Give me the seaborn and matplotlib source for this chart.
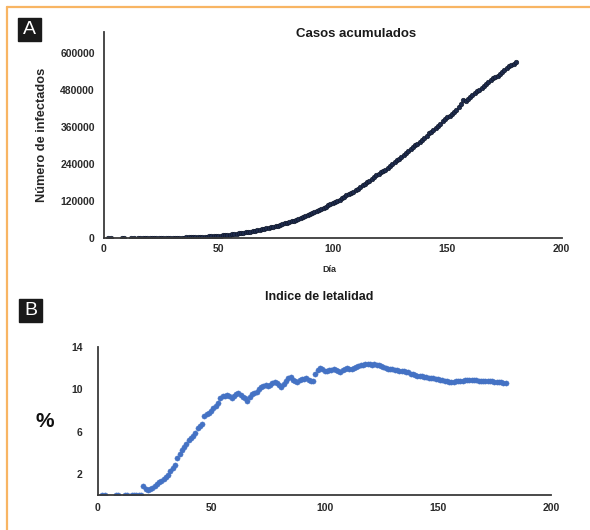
import numpy as np
import pandas as pd
import matplotlib.pyplot as plt
import seaborn as sns

# dias con dato
dias_ini = [2, 3, 8, 9, 12, 13]
dias = dias_ini + list(range(15, 181))

# casos acumulados (panel A)
casos = [4, 5, 7, 7, 12, 26,
         30, 41, 53, 82, 93, 118, 164, 203, 251, 316, 367, 405, 475, 585, 717,
         848, 993, 1094, 1215, 1378, 1510, 1688, 1890, 2143, 2439, 2785, 3181,
         3441, 3844, 4219, 4661, 5014, 5399, 5847, 6297, 6875, 7497, 8261, 8772,
         9501, 10544, 11633, 12872, 13842, 14677, 15529, 16752, 17799, 19224,
         20739, 22088, 23471, 24905, 26025, 27634, 29616, 31522, 33460, 35022,
         36327, 38324, 40186, 42595, 45032, 47144, 49219, 51633, 54346, 56594,
         59567, 62527, 65856, 68620, 71105, 74560, 78023, 81400, 84627, 87512,
         90664, 93435, 97326, 101238, 105680, 110026, 113619, 117103, 120102,
         124301, 129184, 133974, 139196, 142690, 146837, 150264, 154863, 159793,
         165455, 170485, 175202, 180545, 185122, 191410, 196847, 202951, 208392,
         212802, 216852, 220657, 226089, 231770, 238511, 245251, 252165, 256848,
         261750, 268008, 275003, 282283, 289174, 295268, 299750, 304435, 311486,
         317635, 324041, 331298, 338913, 344224, 349396, 356255, 362274, 370712,
         378285, 385036, 390516, 395489, 402697, 408449, 416179, 424637, 434193,
         447500, 443813, 449961, 456100, 462690, 469407, 475902, 480278,
         485836, 492522, 498380, 505751, 511369, 517714, 522162, 525733, 531239,
         537031, 543806, 549734, 556216, 560164, 563705, 568621]

# indice de letalidad (%) (panel B)
letalidad = [0, 0, 0, 0, 0, 0,
             0, 0, 0, 0, 0, 0.9, 0.6, 0.5, 0.6, 0.7, 0.9, 1.0, 1.2, 1.3, 1.5,
             1.7, 1.9, 2.3, 2.6, 2.8, 3.5, 3.9, 4.3, 4.5, 4.8, 5.2, 5.4, 5.6,
             5.9, 6.3, 6.5, 6.7, 7.5, 7.7, 7.8, 8.0, 8.2, 8.4, 8.7, 9.2, 9.4,
             9.4, 9.5, 9.4, 9.2, 9.4, 9.6, 9.7, 9.5, 9.3, 9.2, 8.9, 9.3, 9.6,
             9.7, 9.8, 10.0, 10.2, 10.3, 10.4, 10.3, 10.4, 10.6, 10.7, 10.6,
             10.4, 10.2, 10.5, 10.8, 11.1, 11.2, 10.9, 10.8, 10.7, 10.9, 11.0,
             11.0, 11.1, 10.9, 10.8, 10.8, 11.5, 11.8, 12.0, 11.9, 11.7, 11.7,
             11.8, 11.8, 11.9, 11.8, 11.7, 11.6, 11.8, 11.9, 12.0, 11.9, 11.9,
             12.0, 12.1, 12.2, 12.3, 12.3, 12.4, 12.4, 12.4, 12.3, 12.4, 12.3,
             12.3, 12.2, 12.1, 12.0, 11.9, 11.9, 11.9, 11.8, 11.8, 11.7, 11.7,
             11.7, 11.6, 11.6, 11.5, 11.5, 11.4, 11.3, 11.3, 11.3, 11.2, 11.2,
             11.1, 11.1, 11.1, 11.0, 11.0, 10.9, 10.9, 10.8, 10.8, 10.7, 10.7,
             10.7, 10.8, 10.8, 10.8, 10.8, 10.9, 10.9, 10.9, 10.9, 10.9, 10.9,
             10.8, 10.8, 10.8, 10.8, 10.8, 10.8, 10.8, 10.7, 10.7, 10.7, 10.7,
             10.6, 10.6]

xticks = [0, 50, 100, 150, 200]
yticks_a = [0, 120000, 240000, 360000, 480000, 600000]
yticks_b = [2, 6, 10, 14]

df = pd.DataFrame({'dia': dias, 'casos': casos, 'letalidad': letalidad})

sns.set_style('white')
plt.rcParams['font.family'] = ['Liberation Sans', 'DejaVu Sans']

fig = plt.figure(figsize=(5.9, 5.3), dpi=100)
ax1 = fig.add_axes([0.176, 0.551, 0.776, 0.389])
ax2 = fig.add_axes([0.166, 0.066, 0.768, 0.279])

sns.scatterplot(data=df, x='dia', y='casos', ax=ax1, s=11, color='#1e2b4d',
                edgecolor='#0d1526', linewidth=0.4)
sns.scatterplot(data=df, x='dia', y='letalidad', ax=ax2, s=14, color='#4472c4',
                edgecolor='#4472c4', linewidth=0.3)

for ax in (ax1, ax2):
    sns.despine(ax=ax)
    for sp in ('left', 'bottom'):
        ax.spines[sp].set_color('#3a3a3a')
        ax.spines[sp].set_linewidth(1.3)
    ax.set_xlim(0, 200)
    ax.set_xticks(xticks)
    ax.tick_params(length=0, labelsize=7.5, labelcolor='#2a2a2a')
    for lbl in ax.get_xticklabels():
        lbl.set_fontweight('bold')
    ax.set_xlabel('')
    ax.set_ylabel('')
    ax.patch.set_alpha(0)

ax1.set_ylim(0, 668000)
ax1.set_yticks(yticks_a)
for lbl in ax1.get_yticklabels():
    lbl.set_fontweight('bold')
ax1.tick_params(axis='y', pad=6.5)
ax1.tick_params(axis='x', pad=4)
ax1.set_ylabel('Número de infectados', fontsize=9.2, fontweight='bold', labelpad=9)
ax1.text(0.55, 0.99, 'Casos acumulados', transform=ax1.transAxes, ha='center',
         va='center', fontsize=9.5, fontweight='bold', color='#1a1a1a')
fig.text(0.559, 0.491, 'Día', ha='center', va='center', fontsize=6.5,
         fontweight='bold', color='#2a2a2a')

ax2.set_ylim(0, 14)
ax2.set_yticks(yticks_b)
for lbl in ax2.get_yticklabels():
    lbl.set_fontweight('bold')
ax2.tick_params(axis='y', pad=11)
ax2.tick_params(axis='x', pad=6)
fig.text(0.541, 0.44, 'Indice de letalidad', ha='center', va='center',
         fontsize=9, fontweight='bold', color='#1a1a1a')
fig.text(0.076, 0.204, '%', ha='center', va='center', fontsize=15,
         fontweight='bold', color='#111111')

# etiquetas de panel
for lab, x0, y0 in [('A', 18, 18), ('B', 19, 299)]:
    fig.patches.append(plt.Rectangle((x0 / 590, 1 - (y0 + 23) / 530), 23 / 590, 23 / 530,
                                     transform=fig.transFigure, color='#1a1a1a', zorder=5))
    fig.text((x0 + 11.5) / 590, 1 - (y0 + 11.5) / 530, lab, ha='center', va='center',
             fontsize=14, color='white', zorder=6)

# marco naranja
fig.lines.append(plt.Line2D([7 / 590, 1], [1 - 7 / 530, 1 - 7 / 530], transform=fig.transFigure,
                            color='#f8b563', linewidth=1.6))
fig.lines.append(plt.Line2D([7 / 590, 7 / 590], [0, 1 - 7 / 530], transform=fig.transFigure,
                            color='#f8b563', linewidth=1.6))

fig.savefig('out.png', dpi=100)
